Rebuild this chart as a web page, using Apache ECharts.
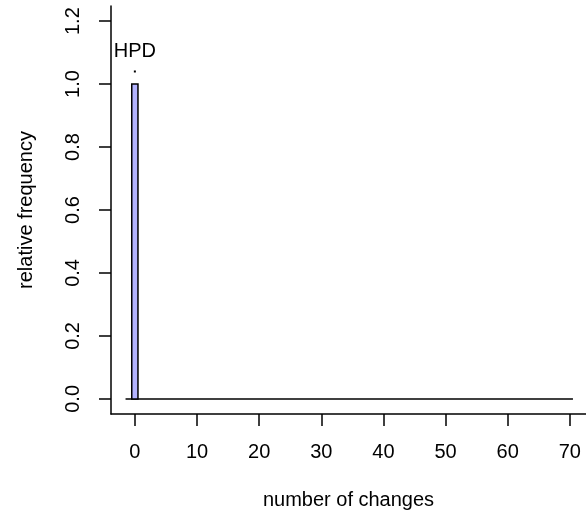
<!DOCTYPE html>
<html>
<head>
<meta charset="utf-8">
<script src="https://cdn.jsdelivr.net/npm/echarts@6/dist/echarts.min.js"></script>
<style>
html,body{margin:0;padding:0;background:#fff;}
#chart{width:586px;height:522px;}
</style>
</head>
<body>
<div id="chart"></div>
<script>
// Data
var changeValues = [0];          // number of changes (bin centres)
var freqValues = [1.0];          // relative frequency
var binWidth = 1;
var baselineRange = [-1.5, 70.5]; // extent of the histogram outline at zero
var hpdInterval = [0, 0];        // HPD interval
var hpdLevel = 1.04;             // height at which the HPD interval is drawn
var xTicks = [0, 10, 20, 30, 40, 50, 60, 70];
var yTicks = [0, 0.2, 0.4, 0.6, 0.8, 1.0, 1.2];

var FONT = '"Liberation Sans", Arial, Helvetica, sans-serif';
var FS = 20;

var barData = changeValues.map(function (c, i) {
  return [c - binWidth / 2, c + binWidth / 2, freqValues[i]];
});

var chart = echarts.init(document.getElementById('chart'));
chart.setOption({
  animation: false,
  backgroundColor: '#fff',
  grid: { left: 111, right: 0, top: 6, bottom: 522 - 414 },
  xAxis: {
    type: 'value', min: -3.84, max: 72.6,
    name: 'number of changes', nameLocation: 'middle', nameGap: 76,
    nameTextStyle: { fontFamily: FONT, fontSize: FS, color: '#000' },
    splitLine: { show: false },
    axisLine: { show: true, onZero: false, lineStyle: { color: '#000', width: 1.5 } },
    axisTick: { show: true, customValues: xTicks, length: 12, inside: false, lineStyle: { color: '#000', width: 1.5 } },
    axisLabel: { customValues: xTicks, margin: 28, fontFamily: FONT, fontSize: FS, color: '#000' }
  },
  yAxis: {
    type: 'value', min: -0.048, max: 1.248,
    name: 'relative frequency', nameLocation: 'middle', nameGap: 75, nameRotate: 90,
    nameTextStyle: { fontFamily: FONT, fontSize: FS, color: '#000' },
    splitLine: { show: false },
    axisLine: { show: true, onZero: false, lineStyle: { color: '#000', width: 1.5 } },
    axisTick: { show: true, customValues: yTicks, length: 12, lineStyle: { color: '#000', width: 1.5 } },
    axisLabel: {
      customValues: yTicks, rotate: 90, margin: 28, fontFamily: FONT, fontSize: FS, color: '#000',
      formatter: function (v) { return v.toFixed(1); }
    }
  },
  series: [
    {
      type: 'line',
      data: [[baselineRange[0], 0], [baselineRange[1], 0]],
      symbol: 'none',
      lineStyle: { color: '#000', width: 1.5 },
      z: 2
    },
    {
      type: 'custom',
      data: barData,
      renderItem: function (params, api) {
        var p0 = api.coord([api.value(0), api.value(2)]);
        var p1 = api.coord([api.value(1), 0]);
        return {
          type: 'rect',
          shape: { x: p0[0], y: p0[1], width: p1[0] - p0[0], height: p1[1] - p0[1] },
          style: { fill: '#B3B3FF', stroke: '#000', lineWidth: 1.5 }
        };
      },
      z: 3
    },
    {
      type: 'custom',
      data: [[hpdInterval[0], hpdInterval[1], hpdLevel]],
      renderItem: function (params, api) {
        var a = api.coord([api.value(0), api.value(2)]);
        var b = api.coord([api.value(1), api.value(2)]);
        return {
          type: 'group',
          children: [
            { type: 'rect', shape: { x: a[0] - 1, y: a[1] - 1, width: (b[0] - a[0]) + 2, height: 2 }, style: { fill: '#000' } },
            { type: 'text', style: { text: 'HPD', x: (a[0] + b[0]) / 2, y: a[1] - 20, align: 'center', verticalAlign: 'middle', font: FS + 'px ' + FONT, fill: '#000' } }
          ]
        };
      },
      z: 4
    }
  ]
});
</script>
</body>
</html>
